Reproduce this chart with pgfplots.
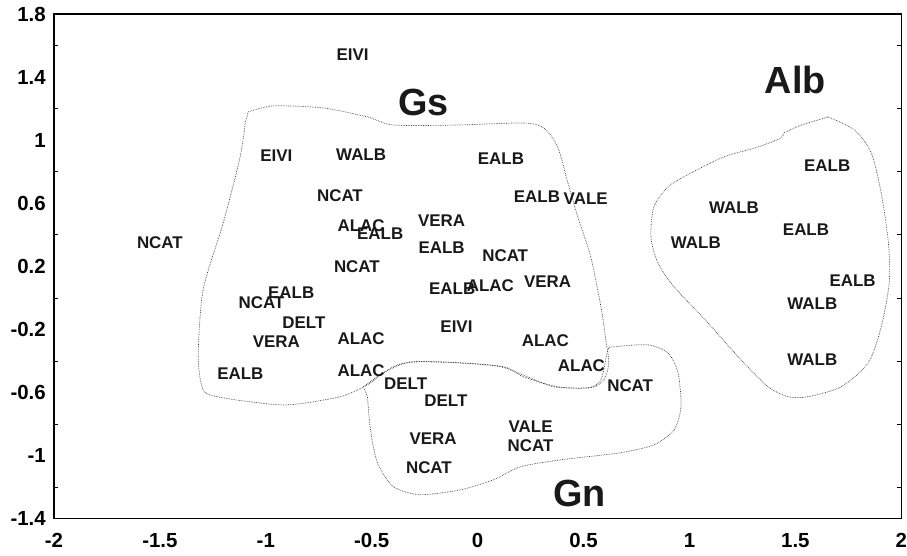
\documentclass[border=0pt]{standalone}
\usepackage{fontspec}
\setmainfont{Liberation Sans}
\usepackage{pgfplots}
\usepackage{pgfplotstable}
\pgfplotsset{compat=1.18}

\pgfplotstableread{
x y label
-0.59 1.54 EIVI
-0.95 0.90 EIVI
-0.55 0.91 WALB
0.11 0.88 EALB
-0.65 0.65 NCAT
0.28 0.64 EALB
0.51 0.63 VALE
-1.50 0.35 NCAT
-0.55 0.46 ALAC
-0.46 0.41 EALB
-0.17 0.49 VERA
-0.17 0.32 EALB
0.13 0.27 NCAT
-0.57 0.20 NCAT
0.33 0.10 VERA
0.06 0.08 ALAC
-0.12 0.06 EALB
-0.88 0.03 EALB
-1.02 -0.03 NCAT
-0.82 -0.16 DELT
-0.95 -0.28 VERA
-0.55 -0.26 ALAC
-0.10 -0.18 EIVI
0.32 -0.27 ALAC
-1.12 -0.48 EALB
-0.55 -0.46 ALAC
0.49 -0.43 ALAC
0.72 -0.56 NCAT
-0.34 -0.545 DELT
-0.15 -0.65 DELT
-0.21 -0.89 VERA
0.25 -0.82 VALE
0.25 -0.94 NCAT
-0.23 -1.08 NCAT
1.21 0.57 WALB
1.03 0.35 WALB
1.65 0.84 EALB
1.55 0.43 EALB
1.77 0.11 EALB
1.58 -0.04 WALB
1.58 -0.39 WALB
}\pointlabels

\pgfplotstableread{
x y label
-0.255 1.24 Gs
1.50 1.38 Alb
0.48 -1.24 Gn
}\grouplabels

\begin{document}
\begin{tikzpicture}
\begin{axis}[
  name=main,
  scale only axis,
  width=848bp, height=505bp,
  xmin=-2, xmax=2, ymin=-1.4, ymax=1.8,
  xtick={-2,-1.5,-1,-0.5,0,0.5,1,1.5,2},
  xticklabels={-2,-1.5,-1,-0.5,0,0.5,1,1.5,2},
  ytick={-1.4,-1,-0.6,-0.2,0.2,0.6,1,1.4,1.8},
  yticklabels={-1.4,-1,-0.6,-0.2,0.2,0.6,1,1.4,1.8},
  minor y tick num=1,
  major tick length=0pt,
  minor tick length=4bp,
  tick style={black, line width=0.6bp},
  axis line style={black, line width=1.2bp},
  ticklabel style={font=\fontsize{20.5}{21}\selectfont\bfseries, inner sep=0pt},
  yticklabel style={xshift=-8bp},
  xticklabel style={anchor=north, text height=15bp, text depth=0pt, yshift=-14bp},
  clip=false,
]
% hulls
\addplot[densely dotted, line width=0.7bp, black!75, smooth, tension=0.45] coordinates {
(-1.083,1.179) (-0.965,1.217) (-0.728,1.204) (-0.520,1.147) (-0.397,1.096)
(-0.095,1.096) (0.217,1.109) (0.312,1.077) (0.378,0.957) (0.426,0.729)
(0.473,0.513) (0.534,0.260) (0.582,-0.057) (0.605,-0.266) (0.619,-0.412)
(0.596,-0.520) (0.534,-0.570) (0.378,-0.564) (0.217,-0.501) (0.123,-0.437)
(-0.095,-0.412) (-0.284,-0.406) (-0.378,-0.425) (-0.459,-0.488) (-0.520,-0.551)
(-0.648,-0.627) (-0.884,-0.678) (-1.040,-0.665) (-1.229,-0.627) (-1.296,-0.583)
(-1.319,-0.374) (-1.296,0.051) (-1.201,0.475) (-1.121,0.894) (-1.097,1.109)
} -- cycle;
\addplot[densely dotted, line width=0.7bp, black!75, smooth, tension=0.45] coordinates {
(-0.539,-0.564) (-0.444,-0.475) (-0.317,-0.406) (-0.080,-0.412) (0.109,-0.437)
(0.236,-0.501) (0.359,-0.564) (0.520,-0.570) (0.582,-0.520) (0.615,-0.330)
(0.643,-0.311) (0.804,-0.298) (0.898,-0.349) (0.946,-0.475) (0.960,-0.691)
(0.927,-0.837) (0.832,-0.932) (0.676,-0.982) (0.392,-1.027) (0.203,-1.071)
(0.076,-1.153) (-0.080,-1.217) (-0.270,-1.248) (-0.397,-1.198) (-0.473,-1.046)
(-0.506,-0.837) (-0.520,-0.627)
} -- cycle;
\addplot[densely dotted, line width=0.7bp, black!75, smooth, tension=0.45] coordinates {
(1.655,1.147) (1.778,1.065) (1.858,0.919) (1.905,0.665) (1.939,0.349)
(1.943,0.095) (1.905,-0.184) (1.844,-0.412) (1.716,-0.564) (1.560,-0.627)
(1.466,-0.627) (1.371,-0.564) (1.243,-0.393) (1.087,-0.158) (0.927,0.070)
(0.851,0.222) (0.818,0.387) (0.832,0.577) (0.898,0.703) (1.007,0.792)
(1.163,0.894) (1.324,0.957) (1.433,1.014) (1.447,1.046) (1.527,1.096)
} -- cycle;
% point labels
\addplot[only marks, mark=none,
  point meta=explicit symbolic, nodes near coords,
  every node near coord/.append style={anchor=center, inner sep=0pt, text=black!90,
    font=\fontsize{17}{17}\selectfont\bfseries}]
  table[x=x, y=y, meta=label] {\pointlabels};
% group labels
\addplot[only marks, mark=none,
  point meta=explicit symbolic, nodes near coords,
  every node near coord/.append style={anchor=center, inner sep=0pt, text=black!90,
    font=\fontsize{38}{38}\selectfont\bfseries}]
  table[x=x, y=y, meta=label] {\grouplabels};
\end{axis}
\path ([shift={(-54bp,-37bp)}]main.south west) rectangle ([shift={(5bp,14bp)}]main.north east);
\end{tikzpicture}
\end{document}
